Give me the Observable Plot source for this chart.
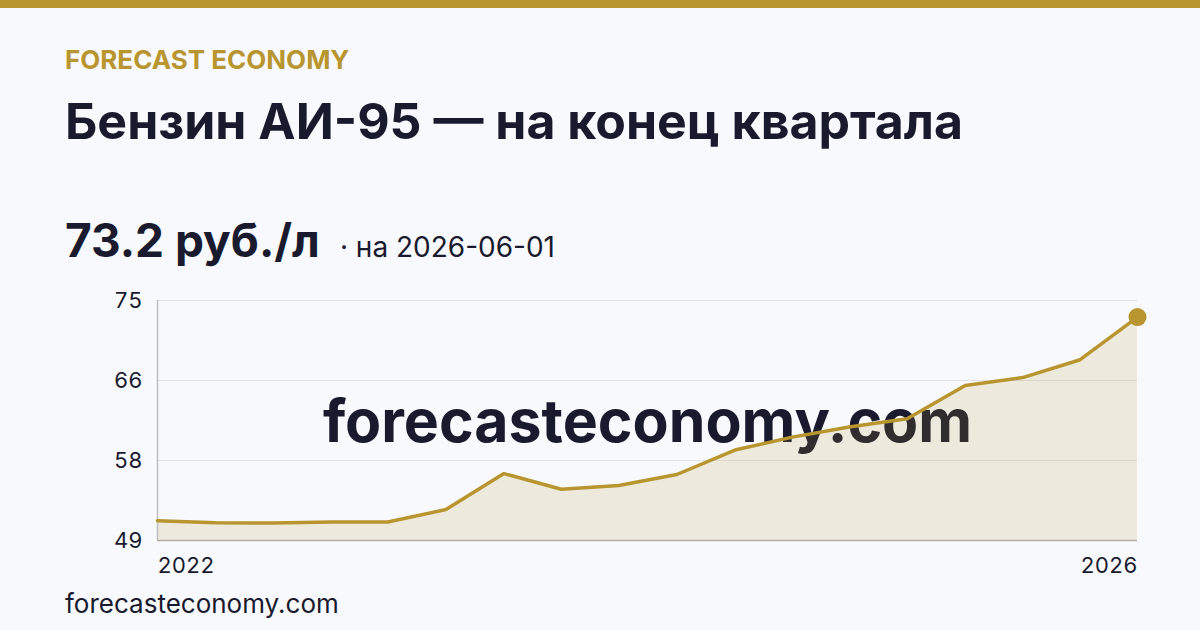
<!DOCTYPE html>
<html>
<head>
<meta charset="utf-8">
<script src="https://cdn.jsdelivr.net/npm/d3@7"></script>
<script src="https://cdn.jsdelivr.net/npm/@observablehq/plot@0.6"></script>
<style>
  html, body { margin: 0; padding: 0; }
  body { width: 1200px; height: 630px; overflow: hidden; background: #f7f9fc; font-family: Inter, "Noto Sans", sans-serif; color: #1a1a2e; position: relative; }
  .topbar { position: absolute; left: 0; top: 0; width: 1200px; height: 8px; background: #b8952e; }
  .brand { position: absolute; left: 65px; top: 47px; font-size: 26px; line-height: 1; font-weight: 700; color: #b8952e; }
  .title { position: absolute; left: 65px; top: 96px; font-size: 50px; line-height: 1; font-weight: 700; color: #1a1a2e; }
  .value { position: absolute; left: 65px; top: 217px; display: flex; align-items: baseline; line-height: 1; }
  .value .big { font-size: 46px; font-weight: 700; color: #1a1a2e; }
  .value .sub { font-size: 28px; font-weight: 400; color: #1a1a2e; margin-left: 20px; }
  #chart { position: absolute; left: 0; top: 285px; }
  .footer { position: absolute; left: 65px; top: 591px; font-size: 26px; line-height: 1; color: #1a1a2e; }
</style>
</head>
<body>
<div class="topbar"></div>
<div class="brand">FORECAST ECONOMY</div>
<div class="title">Бензин АИ-95 — на конец квартала</div>
<div class="value"><span class="big">73.2 руб./л</span><span class="sub">· на 2026-06-01</span></div>
<div id="chart"></div>
<div class="footer">forecasteconomy.com</div>
<script>
const dates = [
  "2022-03-01","2022-06-01","2022-09-01","2022-12-01",
  "2023-03-01","2023-06-01","2023-09-01","2023-12-01",
  "2024-03-01","2024-06-01","2024-09-01","2024-12-01",
  "2025-03-01","2025-06-01","2025-09-01","2025-12-01",
  "2026-03-01","2026-06-01"
];
const prices = [
  51.15, 50.92, 50.9, 51.0,
  51.0, 52.35, 56.25, 54.55,
  54.95, 56.15, 58.8, 60.2,
  61.3, 62.2, 65.8, 66.65,
  68.55, 73.2
];
const yDomain = [49, 75];
const yTicks = [49, 49 + 26/3, 49 + 52/3, 75];
const watermark = ["forecasteconomy.com"];

const data = dates.map((d, i) => ({date: new Date(d + "T00:00:00Z"), value: prices[i]}));
const last = data[data.length - 1];
const gold = "#b8952e";

const chart = Plot.plot({
  width: 1200,
  height: 300,
  marginLeft: 157,
  marginRight: 63,
  marginTop: 15,
  marginBottom: 45,
  style: {background: "transparent", fontFamily: "Inter, sans-serif", fontSize: "22px", color: "#1a1a2e"},
  x: {type: "utc", domain: [data[0].date, last.date]},
  y: {domain: yDomain},
  marks: [
    Plot.gridY(yTicks, {stroke: "#e1e3e9", strokeOpacity: 1, strokeWidth: 1}),
    Plot.text(watermark, {frameAnchor: "middle", fontSize: 59, fontWeight: 700, fill: "#1a1a2e", dy: 3}),
    Plot.areaY(data, {x: "date", y1: yDomain[0], y2: "value", fill: gold, fillOpacity: 0.15}),
    Plot.ruleX([data[0].date], {stroke: "#bdbdc2", strokeWidth: 1.5}),
    Plot.ruleY([yDomain[0]], {stroke: "#b3aea4", strokeWidth: 1.5}),
    Plot.lineY(data, {x: "date", y: "value", stroke: gold, strokeWidth: 3.5, strokeLinejoin: "miter"}),
    Plot.dot([last], {x: "date", y: "value", r: 9, fill: gold, stroke: "none"}),
    Plot.axisY(yTicks, {tickSize: 0, tickPadding: 15, tickFormat: d => Math.round(d), label: null, fontSize: 22}),
    Plot.axisX([data[0].date], {tickSize: 0, tickPadding: 17, tickFormat: "%Y", textAnchor: "start", label: null, fontSize: 22}),
    Plot.axisX([last.date], {tickSize: 0, tickPadding: 17, tickFormat: "%Y", textAnchor: "end", label: null, fontSize: 22})
  ]
});
document.getElementById("chart").appendChild(chart);
</script>
</body>
</html>
